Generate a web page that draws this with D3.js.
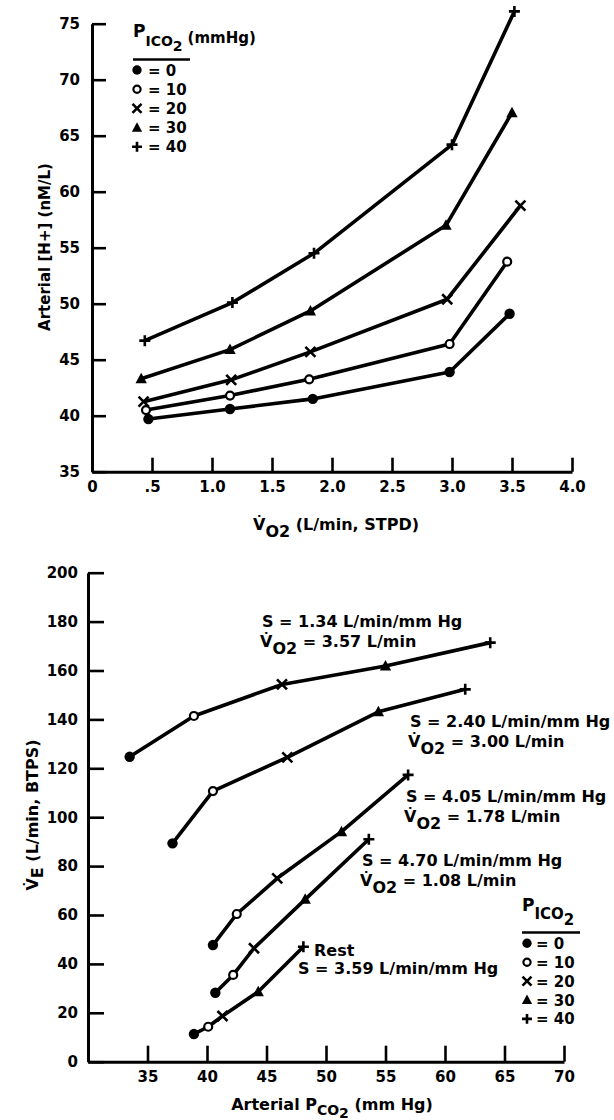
<!DOCTYPE html>
<html>
<head>
<meta charset="utf-8">
<script src="https://cdn.jsdelivr.net/npm/d3@7"></script>
<style>
  body { margin: 0; background: #fff; }
  svg text { font-family: "DejaVu Sans", sans-serif; font-weight: bold; fill: #000; }
</style>
</head>
<body>
<div id="chart"></div>
<script>
// inspired PCO2 levels (mmHg) -> marker kind, same order in both panels
var picoLevels = [0, 10, 20, 30, 40];

// top panel: arterial [H+] vs VO2, one line per PICO2
var topVO2 = [
  [0.47, 1.15, 1.84, 2.98, 3.48],
  [0.45, 1.15, 1.81, 2.98, 3.46],
  [0.43, 1.16, 1.82, 2.96, 3.57],
  [0.41, 1.15, 1.82, 2.95, 3.50],
  [0.44, 1.17, 1.85, 3.00, 3.52]
];
var topH = [
  [39.7, 40.6, 41.5, 43.9, 49.1],
  [40.5, 41.8, 43.25, 46.4, 53.75],
  [41.25, 43.2, 45.7, 50.4, 58.75],
  [43.3, 45.9, 49.35, 57.0, 67.05],
  [46.7, 50.1, 54.5, 64.2, 76.1]
];
var topXTicks = [0, 0.5, 1, 1.5, 2, 2.5, 3, 3.5, 4];
var topYTicks = [35, 40, 45, 50, 55, 60, 65, 70, 75];

// bottom panel: VE vs arterial PCO2, one line per exercise level,
// points in PICO2 order 0,10,20,30,40
var botSlopes = ["1.34", "2.40", "4.05", "4.70", "3.59"];
var botVO2 = ["3.57", "3.00", "1.78", "1.08", null];
var botPaCO2 = [
  [33.5, 38.9, 46.3, 55.0, 63.8],
  [37.1, 40.5, 46.75, 54.4, 61.7],
  [40.5, 42.5, 45.9, 51.3, 56.9],
  [40.7, 42.2, 43.95, 48.25, 53.6],
  [38.9, 40.1, 41.3, 44.3, 48.1]
];
var botVE = [
  [124.7, 141.4, 154.3, 161.8, 171.4],
  [89.3, 110.7, 124.5, 143.1, 152.3],
  [47.7, 60.4, 75.0, 94.1, 117.3],
  [28.2, 35.5, 46.4, 66.4, 91.0],
  [11.3, 14.3, 18.7, 28.6, 47.0]
];
var botXTicks = [35, 40, 45, 50, 55, 60, 65, 70];
var botYTicks = [0, 20, 40, 60, 80, 100, 120, 140, 160, 180, 200];

var W = 614, H = 1120;
var svg = d3.select("#chart").append("svg")
  .attr("width", W).attr("height", H);
svg.append("rect").attr("width", W).attr("height", H).attr("fill", "#fff");

var xTop = d3.scaleLinear().domain([0, 4]).range([92, 572]);
var yTop = d3.scaleLinear().domain([35, 75]).range([471.7, 23.7]);
var xBot = d3.scaleLinear().domain([30, 70]).range([88, 564]);
var yBot = d3.scaleLinear().domain([0, 200]).range([1061.7, 572.7]);

var line = function (xs, ys, sx, sy) {
  return d3.line().x(function (d) { return sx(d[0]); }).y(function (d) { return sy(d[1]); })
    (xs.map(function (v, i) { return [v, ys[i]]; }));
};

// marker for PICO2 index k, centred on (x,y)
function marker(g, k, x, y, s) {
  s = s || 1;
  var m = g.append("g").attr("transform", "translate(" + x + "," + y + ")");
  if (k === 0) {
    m.append("circle").attr("r", 5.2 * s).attr("fill", "#000");
  } else if (k === 1) {
    m.append("circle").attr("r", 4 * s).attr("fill", "#fff").attr("stroke", "#000").attr("stroke-width", 2.2);
  } else if (k === 2) {
    var a = 5 * s;
    m.append("path").attr("d", "M" + -a + "," + -a + "L" + a + "," + a + "M" + a + "," + -a + "L" + -a + "," + a)
      .attr("stroke", "#000").attr("stroke-width", 2.6).attr("fill", "none");
  } else if (k === 3) {
    var t = 6 * s;
    m.append("path").attr("d", "M0," + (-t) + "L" + (t * 0.95) + "," + (t * 0.75) + "L" + (-t * 0.95) + "," + (t * 0.75) + "Z")
      .attr("fill", "#000");
  } else {
    var p = 5.5 * s;
    m.append("path").attr("d", "M0," + -p + "L0," + p + "M" + -p + ",0L" + p + ",0")
      .attr("stroke", "#000").attr("stroke-width", 2.6).attr("fill", "none");
  }
}

function styleAxis(g) {
  g.select(".domain").attr("stroke", "#000").attr("stroke-width", 3);
  g.selectAll(".tick line").attr("stroke", "#000").attr("stroke-width", 2.6);
  g.selectAll(".tick text").attr("font-size", 15).attr("font-family", "DejaVu Sans").attr("font-weight", "bold");
}

// ---------- top panel ----------
var topG = svg.append("g");
topG.append("g").attr("transform", "translate(0," + yTop(35) + ")")
  .call(d3.axisBottom(xTop).tickValues(topXTicks).tickSizeInner(-14).tickSizeOuter(0).tickPadding(10)
    .tickFormat(function (d) { return d === 0 ? "0" : d === 0.5 ? ".5" : d3.format(".1f")(d); }))
  .call(styleAxis);
topG.append("g").attr("transform", "translate(" + xTop(0) + ",0)")
  .call(d3.axisLeft(yTop).tickValues(topYTicks).tickSizeInner(-14).tickSizeOuter(0).tickPadding(12))
  .call(styleAxis);

picoLevels.forEach(function (lv, k) {
  topG.append("path").attr("d", line(topVO2[k], topH[k], xTop, yTop))
    .attr("fill", "none").attr("stroke", "#000").attr("stroke-width", 3.6).attr("stroke-linejoin", "round");
  topVO2[k].forEach(function (v, i) { marker(topG, k, xTop(v), yTop(topH[k][i])); });
});

// axis titles
topG.append("text").attr("transform", "translate(50,247) rotate(-90)")
  .attr("text-anchor", "middle").attr("font-size", 15).text("Arterial [H+] (nM/L)");
var tx = topG.append("text").attr("x", 336).attr("y", 530).attr("text-anchor", "middle").attr("font-size", 16);
tx.append("tspan").text("V\u0307");
tx.append("tspan").attr("dy", 7).text("O2");
tx.append("tspan").attr("dy", -7).text(" (L/min, STPD)");

// top legend
var lg = topG.append("g");
var lt = lg.append("text").attr("x", 133).attr("y", 37).attr("font-size", 17);
lt.append("tspan").text("P");
lt.append("tspan").attr("dy", 9).attr("font-size", 14).text("ICO");
lt.append("tspan").attr("dy", 5).attr("font-size", 14).text("2");
lt.append("tspan").attr("dy", -8).attr("dx", 5).attr("font-size", 15).text("(mmHg)");
lg.append("line").attr("x1", 133).attr("x2", 190).attr("y1", 59.5).attr("y2", 59.5)
  .attr("stroke", "#000").attr("stroke-width", 2.4);
picoLevels.forEach(function (lv, k) {
  var yy = 70 + k * 19.2;
  marker(lg, k, 137, yy, 0.9);
  lg.append("text").attr("x", 148).attr("y", yy + 5.5).attr("font-size", 15).text("= " + lv);
});

// ---------- bottom panel ----------
var botG = svg.append("g");
botG.append("g").attr("transform", "translate(0," + yBot(0) + ")")
  .call(d3.axisBottom(xBot).tickValues(botXTicks).tickSizeInner(-16).tickSizeOuter(0).tickPadding(10))
  .call(styleAxis);
botG.append("g").attr("transform", "translate(" + xBot(30) + ",0)")
  .call(d3.axisLeft(yBot).tickValues(botYTicks).tickSizeInner(-16).tickSizeOuter(0).tickPadding(10))
  .call(styleAxis);

botSlopes.forEach(function (s, j) {
  botG.append("path").attr("d", line(botPaCO2[j], botVE[j], xBot, yBot))
    .attr("fill", "none").attr("stroke", "#000").attr("stroke-width", 3.6).attr("stroke-linejoin", "round");
  botPaCO2[j].forEach(function (v, i) { marker(botG, i, xBot(v), yBot(botVE[j][i])); });
});

// annotations: [x, baseline of S line]
var annPos = [[262, 627], [410, 727], [406, 802], [362, 866], [298, 974]];
botSlopes.forEach(function (s, j) {
  var p = annPos[j];
  botG.append("text").attr("x", p[0]).attr("y", p[1]).attr("font-size", 16)
    .text("S = " + s + " L/min/mm Hg");
  if (botVO2[j]) {
    var t = botG.append("text").attr("x", p[0] - 2).attr("y", p[1] + 20).attr("font-size", 16);
    t.append("tspan").text("V\u0307");
    t.append("tspan").attr("dy", 7).text("O2");
    t.append("tspan").attr("dy", -7).text(" = " + botVO2[j] + " L/min");
  } else {
    botG.append("text").attr("x", p[0] + 16).attr("y", p[1] - 18).attr("font-size", 16).text("Rest");
  }
});

var by = botG.append("text").attr("transform", "translate(38,815) rotate(-90)")
  .attr("text-anchor", "middle").attr("font-size", 16);
by.append("tspan").text("V\u0307");
by.append("tspan").attr("dy", 5).text("E");
by.append("tspan").attr("dy", -5).text(" (L/min, BTPS)");

var bx = botG.append("text").attr("x", 332).attr("y", 1110).attr("text-anchor", "middle").attr("font-size", 16);
bx.append("tspan").text("Arterial P");
bx.append("tspan").attr("dy", 5).attr("font-size", 14).text("CO");
bx.append("tspan").attr("dy", 3).attr("font-size", 14).text("2");
bx.append("tspan").attr("dy", -8).text(" (mm Hg)");

// bottom legend
var lb = botG.append("g");
var lbt = lb.append("text").attr("x", 522).attr("y", 911).attr("font-size", 17);
lbt.append("tspan").text("P");
lbt.append("tspan").attr("dy", 8).attr("font-size", 15).text("ICO");
lbt.append("tspan").attr("dy", 6).attr("font-size", 15).text("2");
lb.append("line").attr("x1", 522).attr("x2", 580).attr("y1", 932.5).attr("y2", 932.5)
  .attr("stroke", "#000").attr("stroke-width", 2.4);
picoLevels.forEach(function (lv, k) {
  var yy = 943.3 + k * 18.9;
  marker(lb, k, 527, yy, 0.9);
  lb.append("text").attr("x", 536).attr("y", yy + 5.5).attr("font-size", 15).text("= " + lv);
});
</script>
</body>
</html>
